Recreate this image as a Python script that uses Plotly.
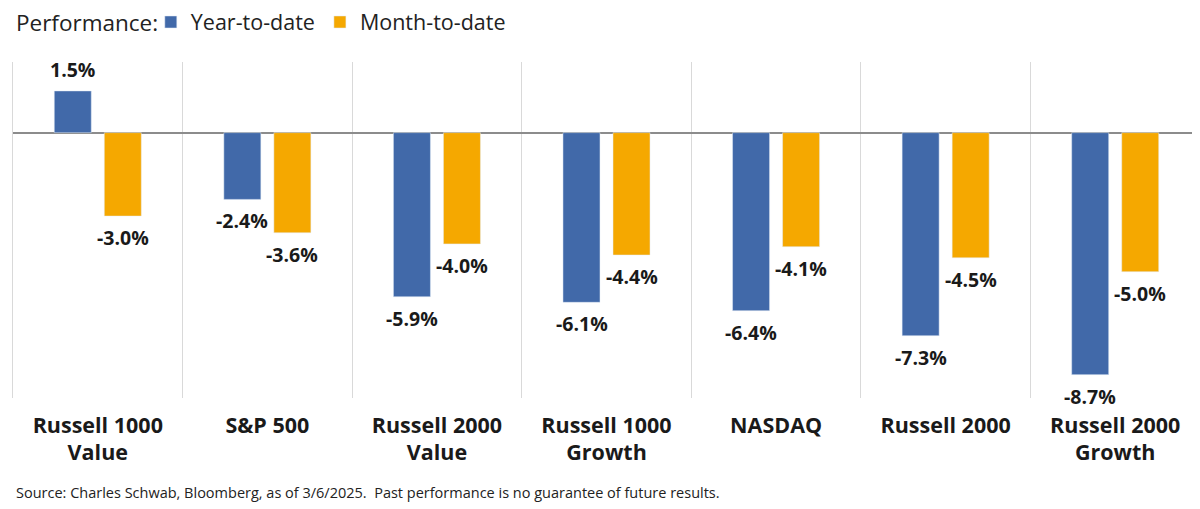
import plotly.graph_objects as go

# Dane z wykresu
indeksy = ['Russell 1000<br>Value', 'S&P 500', 'Russell 2000<br>Value', 'Russell 1000<br>Growth',
           'NASDAQ', 'Russell 2000', 'Russell 2000<br>Growth']
ytd = [1.5, -2.4, -5.9, -6.1, -6.4, -7.3, -8.7]
mtd = [-3.0, -3.6, -4.0, -4.4, -4.1, -4.5, -5.0]

NIEBIESKI = '#4169a9'
POMARANCZOWY = '#f5a800'
FONT = 'Open Sans'

fig = go.Figure()
fig.add_trace(go.Bar(x=indeksy, y=ytd, name='Year-to-date', marker_color=NIEBIESKI))
fig.add_trace(go.Bar(x=indeksy, y=mtd, name='Month-to-date', marker_color=POMARANCZOWY))

# Etykiety wartości pod/nad słupkami
for seria, przes in ((ytd, -25), (mtd, 25)):
    for kat, v in zip(indeksy, seria):
        fig.add_annotation(
            x=kat, y=v, xref='x', yref='y', text=f'{v:.1f}%', showarrow=False,
            xshift=przes, yanchor='bottom' if v > 0 else 'top', yshift=6 if v > 0 else -6,
            font=dict(family=FONT, size=19.5, color='#1a1a1a', weight='bold'))

# Tytuł legendy
fig.add_annotation(
    text='Performance:', xref='paper', yref='paper', x=0, xshift=1, y=1, yshift=40,
    xanchor='left', yanchor='middle', showarrow=False,
    font=dict(family=FONT, size=22.5, color='#222'))

# Źródło
fig.add_annotation(
    text='Source: Charles Schwab, Bloomberg, as of 3/6/2025.  Past performance is no guarantee of future results.',
    xref='paper', yref='paper', x=0, xshift=1, y=-0.28, yanchor='middle', xanchor='left',
    showarrow=False, font=dict(family=FONT, size=14.5, color='#222'))

# strona ma 8 px marginesu body, stąd nieco mniejszy wykres
fig.update_layout(
    width=1192, height=501,
    margin=dict(l=5, r=0, t=54, b=111, autoexpand=False),
    plot_bgcolor='white', paper_bgcolor='white',
    barmode='group', bargap=0.41, bargroupgap=0.26,
    font=dict(family=FONT, color='#1a1a1a'),
    showlegend=True,
    legend=dict(orientation='h', x=0.1198, y=1.119, yanchor='middle', xanchor='left',
                yref='paper', xref='container', tracegroupgap=0,
                font=dict(size=21.5, color='#222'), itemclick=False),
    xaxis=dict(tickson='boundaries', showgrid=True, gridcolor='#d9d9d9', gridwidth=1,
               ticks='', ticklabelstandoff=12,
               tickfont=dict(family=FONT, size=21.5, color='#1a1a1a', weight='bold')),
    yaxis=dict(range=[-9.54, 2.54], showticklabels=False, showgrid=False,
               zeroline=True, zerolinecolor='#8c8c8c', zerolinewidth=2,
               showline=True, linecolor='#d9d9d9', linewidth=1),
)

fig.write_html('out.html')
